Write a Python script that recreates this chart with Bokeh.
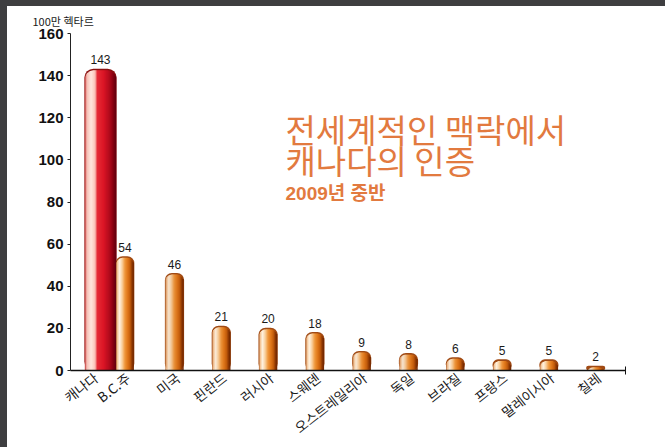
import math
from bokeh.plotting import figure
from bokeh.models import (ColumnDataSource, LabelSet, Label, Range1d, FixedTicker,
                          CustomJSTickFormatter, LinearAxis)
from bokeh.layouts import column
from bokeh.core.properties import value
from bokeh.embed import file_html
from bokeh.resources import INLINE

# ---------------- data ----------------
countries = ["캐나다", "B.C.주", "미국", "핀란드", "러시아", "스웨덴",
             "오스트레일리아", "독일", "브라질", "프랑스", "말레이시아", "칠레"]
areas = [143, 54, 46, 21, 20, 18, 9, 8, 6, 5, 5, 2]
y_ticks = [0, 20, 40, 60, 80, 100, 120, 140, 160]
unit_label = "100만 헥타르"
title_lines = ["전세계적인 맥락에서", "캐나다의 인증"]
subtitle = "2009년 중반"

# ---------------- layout ----------------
OFF_X, OFF_Y = 7, 6
FIG_W, FIG_H = 658, 441
B_L, B_R, B_T, B_B = 63, 40, 25, 76
FRAME_W = FIG_W - B_L - B_R
FRAME_H = FIG_H - B_T - B_B
X0, X1 = -0.222, 11.637
Y0, Y1 = 0, 160
ppx = FRAME_W / (X1 - X0)
ppy = FRAME_H / (Y1 - Y0)

slots = [float(i) for i in range(len(countries))]
slots[0] = 0.419   # wide Canada bar shifted next to B.C.
slots[1] = 0.942
label_shift_px = [-5] + [3] * (len(countries) - 1)
bar_px = [31.0, 17.5] + [18.0] * (len(countries) - 2)
radius_px = [9] + [7] * (len(countries) - 1)
is_red = [True] + [False] * (len(countries) - 1)

orange_stops = [(0.0, "#a85a28"), (0.07, "#f3c08e"), (0.2, "#fff3e2"), (0.35, "#f9cf9c"),
                (0.5, "#f0993e"), (0.65, "#e27a1c"), (0.8, "#c65e0c"), (0.92, "#8c3602"),
                (1.0, "#6a2400")]
red_stops = [(0.0, "#b82828"), (0.06, "#f6bcb2"), (0.2, "#ffe6de"), (0.33, "#fbc4ba"),
             (0.4, "#e62a36"), (0.6, "#dc1626"), (0.8, "#b00a1c"), (0.93, "#820010"),
             (1.0, "#600010")]


def hex2rgb(h):
    h = h.lstrip("#")
    return tuple(int(h[i:i + 2], 16) for i in (0, 2, 4))


def grad(stops, u):
    for (u0, c0), (u1, c1) in zip(stops[:-1], stops[1:]):
        if u0 <= u <= u1:
            t = 0 if u1 == u0 else (u - u0) / (u1 - u0)
            a, b = hex2rgb(c0), hex2rgb(c1)
            return "#%02x%02x%02x" % tuple(int(round(a[j] + (b[j] - a[j]) * t)) for j in range(3))
    return stops[-1][1]


sx, stop, sw, sc = [], [], [], []
for cx, v, w, r, red in zip(slots, areas, bar_px, radius_px, is_red):
    n = int(round(w))
    step = w / n
    for k in range(n):
        pos = (k + 0.5) * step
        d = min(pos, w - pos)
        red_px = 0.0
        if d < r:
            red_px = r - math.sqrt(max(r * r - (r - d) ** 2, 0))
        sx.append(cx + (pos - w / 2) / ppx)
        stop.append(max(v - (red_px + 1.0) / ppy, 0))
        sw.append((step + 0.4) / ppx)
        sc.append(grad(red_stops if red else orange_stops, (k + 0.5) / n))

strips = ColumnDataSource(dict(x=sx, top=stop, width=sw, color=sc))

p = figure(width=FIG_W, height=FIG_H, output_backend="svg", toolbar_location=None,
           x_range=Range1d(X0, X1), y_range=Range1d(Y0, Y1),
           min_border_left=B_L, min_border_right=B_R, min_border_top=B_T,
           min_border_bottom=B_B, background_fill_color="white",
           border_fill_color="white", x_axis_location=None)
p.outline_line_color = None
p.grid.visible = False

# unit label as title (top-left)
p.title.text = unit_label
p.title.text_font = "Noto Sans CJK KR"
p.title.text_font_size = "11px"
p.title.text_font_style = "normal"
p.title.text_color = "#1a1a1a"
p.title.offset = -38
p.title.standoff = 9

# outline shapes (rounded)
for cx, v, w, r, red in zip(slots, areas, bar_px, radius_px, is_red):
    p.vbar(x=[cx], top=[v + 0.6 / ppy], width=(w + 1.2) / ppx,
           fill_color="#8a1010" if red else "#a04a14", line_color=None,
           border_radius=r)
p.vbar(x="x", top="top", width="width", fill_color="color", line_color=None, source=strips)

# y axis
p.yaxis.ticker = FixedTicker(ticks=y_ticks)
p.yaxis.major_label_text_font = "Liberation Sans"
p.yaxis.major_label_text_font_style = "bold"
p.yaxis.major_label_text_font_size = "15px"
p.yaxis.major_label_text_color = "#111111"
p.yaxis.major_tick_out = 3
p.yaxis.major_tick_in = 0
p.yaxis.minor_tick_line_color = None
p.yaxis.major_label_standoff = 4
p.yaxis.axis_line_color = "#222222"
p.yaxis.major_tick_line_color = "#222222"

# x axis A: line with end tick only
ax_line = LinearAxis(ticker=FixedTicker(ticks=[X1 - 1e-6]),
                     formatter=CustomJSTickFormatter(code="return ''"),
                     major_tick_in=4, major_tick_out=4, minor_tick_line_color=None,
                     axis_line_width=1.5, axis_line_color="#111111",
                     major_tick_line_color="#111111", major_label_standoff=0,
                     major_label_text_font_size="1px")
p.add_layout(ax_line, "below")

# x axis B: category labels
label_ticks = [s + d / ppx for s, d in zip(slots, label_shift_px)]
ax_cat = LinearAxis(ticker=FixedTicker(ticks=label_ticks),
                    major_label_overrides={t: c for t, c in zip(label_ticks, countries)},
                    major_tick_line_color=None, minor_tick_line_color=None,
                    axis_line_color=None, major_tick_in=0, major_tick_out=0,
                    major_label_standoff=1, major_label_orientation=math.radians(38),
                    major_label_text_font="Noto Sans CJK KR",
                    major_label_text_font_size="13.5px",
                    major_label_text_color="#1a1a1a")
p.add_layout(ax_cat, "below")

# value labels
vals = ColumnDataSource(dict(x=slots, y=areas, t=[str(a) for a in areas]))
p.add_layout(LabelSet(x="x", y="y", text="t", source=vals, text_align="center",
                      text_baseline="bottom", y_offset=5, text_font_size="12px",
                      text_font=value("Liberation Sans"), text_color="#1a1a1a"))

# title
ORANGE = "#e27a3f"
tx = X0 + (285 - 70) / ppx
centers = [128, 160]
for line, cy in zip(title_lines, centers):
    p.add_layout(Label(x=tx, y=Y1 - (cy - 32) / ppy, text=line,
                       text_font_size="33px", text_font="Noto Sans CJK KR",
                       text_baseline="middle", text_color=ORANGE))
p.add_layout(Label(x=tx, y=Y1 - (193 - 32) / ppy, text=subtitle,
                   text_font_size="19px", text_font_style="bold",
                   text_font="Liberation Sans, Noto Sans CJK KR",
                   text_baseline="middle", text_color=ORANGE))

inner = column(p, width=FIG_W, height=FIG_H, styles={"background-color": "white"})
inner.margin = (OFF_Y, 0, 0, OFF_X)
root = column(inner, width=665, height=447, styles={"background-color": "#3e3e40"})
open("out.html", "w").write(file_html(root, INLINE))
